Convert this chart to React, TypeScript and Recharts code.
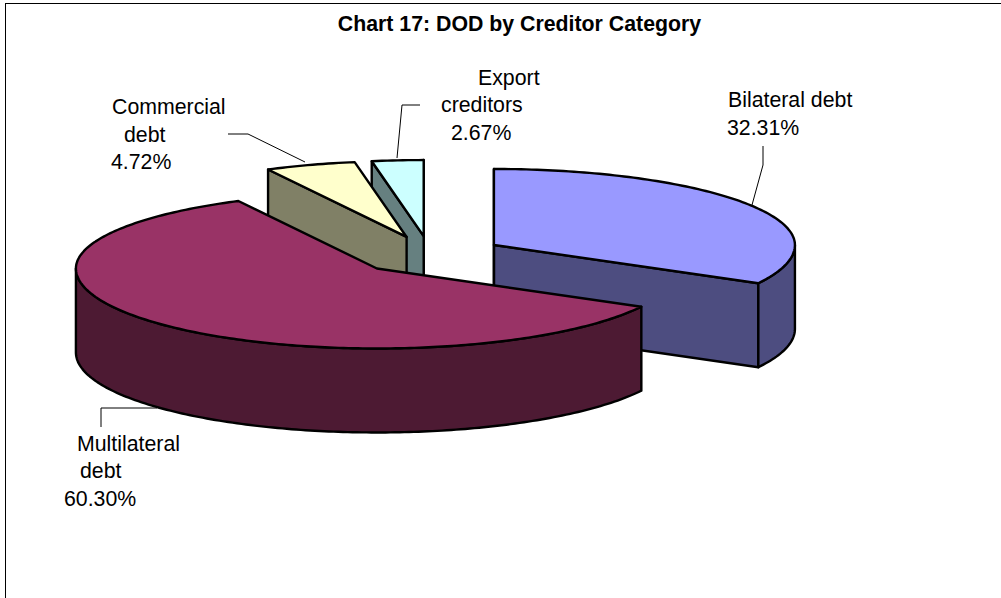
import React from "react";
import { PieChart, Pie } from "recharts";

// Creditor shares of disbursed outstanding debt, in percent.
const categories = ["Bilateral debt", "Export creditors", "Commercial debt", "Multilateral debt"];
const shares = [32.31, 2.67, 4.72, 60.3];
const topColors = ["#9999FF", "#CCFFFF", "#FFFFCC", "#993366"];
const wallColors = ["#4D4D80", "#668080", "#808066", "#4D1A33"];

const pieRows = categories.map((name, i) => ({
  name,
  value: shares[i],
  top: topColors[i],
  wall: wallColors[i],
}));

const WIDTH = 1001;
const HEIGHT = 598;
const CENTER_X = 430;
const CENTER_Y = 255;
const RADIUS = 301;
const FAR_TILT = 76 / 301; // vertical squash of the half of the disc away from the viewer
const NEAR_TILT = 80 / 301; // the near half looks slightly deeper under perspective
const DEPTH = 84; // thickness of the disc in pixels
const EXPLODE = 0.25; // slice offset as a share of the radius
const FONT = "'Liberation Sans', Arial, sans-serif";
const FONT_SIZE = 21.3;
const EDGE = 2.4;

// Rotates the pie so that the first slice ends on the 12 o'clock line going clockwise.
const START_ANGLE = 90 - (360 * shares[0]) / 100;

const rad = (deg: number) => (deg * Math.PI) / 180;

type Pt = { x: number; y: number };

// Perspective foreshortening of an angle around the disc.
const projectAngle = (a: number) => {
  const s = Math.sin(rad(a));
  return a + (s < 0 ? 2.8 : -1) * Math.sin(rad(2 * a));
};

function Slice3D(props: any) {
  const { cx, cy, outerRadius, startAngle, endAngle, midAngle, payload } = props;
  const row = payload ?? props;
  const rx = outerRadius;
  const ox = cx + EXPLODE * rx * Math.cos(rad(midAngle));
  const oy = cy - EXPLODE * outerRadius * FAR_TILT * Math.sin(rad(midAngle));
  const at = (a: number, drop = 0): Pt => {
    const p = rad(projectAngle(a));
    const sin = Math.sin(p);
    const ry = outerRadius * (sin < 0 ? NEAR_TILT : FAR_TILT);
    return { x: ox + rx * Math.cos(p), y: oy - ry * sin + drop };
  };
  const arc = (a: number, b: number, drop = 0) => {
    const steps = Math.max(2, Math.ceil(Math.abs(b - a)));
    let d = "";
    for (let i = 1; i <= steps; i += 1) {
      const p = at(a + ((b - a) * i) / steps, drop);
      d += `L ${p.x.toFixed(2)} ${p.y.toFixed(2)} `;
    }
    return d;
  };

  const s = at(startAngle);
  const e = at(endAngle);
  const interior = at((startAngle + endAngle) / 2);
  const edgeStyle = { stroke: "#000", strokeWidth: EDGE, strokeLinejoin: "round" as const };

  // A radial wall shows only when the slice's top face lies above its edge.
  const radialWall = (p: Pt, key: string) => {
    const dx = p.x - ox;
    const lineY = Math.abs(dx) < 0.5 ? interior.y + 1 : oy + ((p.y - oy) * (interior.x - ox)) / dx;
    if (interior.y > lineY) return null;
    const d = `M ${ox} ${oy} L ${p.x} ${p.y} L ${p.x} ${p.y + DEPTH} L ${ox} ${oy + DEPTH} Z`;
    return <path key={key} d={d} fill={row.wall} {...edgeStyle} />;
  };

  // Outer rim: only the part of the arc on the near half of the ellipse.
  const rims: React.ReactNode[] = [];
  for (const [lo, hi] of [
    [-180, 0],
    [180, 360],
  ]) {
    const a = Math.max(startAngle, lo);
    const b = Math.min(endAngle, hi);
    if (b > a) {
      const pa = at(a);
      const d = `M ${pa.x} ${pa.y} ${arc(a, b)}${arc(b, b, DEPTH)}${arc(b, a, DEPTH)}Z`;
      rims.push(<path key={`rim${lo}`} d={d} fill={row.wall} {...edgeStyle} />);
    }
  }

  const topFace = `M ${ox} ${oy} L ${s.x} ${s.y} ${arc(startAngle, endAngle)}Z`;
  return (
    <g>
      {radialWall(s, "wallStart")}
      {radialWall(e, "wallEnd")}
      {rims}
      <path d={topFace} fill={row.top} {...edgeStyle} />
    </g>
  );
}

// Callout text and elbowed leader line for each slice.
const calloutLines: Record<string, { text: string; x: number; y: number }[]> = {
  "Bilateral debt": [
    { text: "Bilateral debt", x: 728, y: 107 },
    { text: "", x: 727, y: 135 },
  ],
  "Export creditors": [
    { text: "Export", x: 478, y: 85 },
    { text: "creditors", x: 441, y: 112 },
    { text: "", x: 451, y: 140 },
  ],
  "Commercial debt": [
    { text: "Commercial", x: 112, y: 114 },
    { text: "debt", x: 124, y: 142 },
    { text: "", x: 111, y: 169 },
  ],
  "Multilateral debt": [
    { text: "Multilateral", x: 77, y: 451 },
    { text: "debt", x: 80, y: 478 },
    { text: "", x: 64, y: 506 },
  ],
};

const leaderPoints: Record<string, string> = {
  "Bilateral debt": "763,146 763,165 752,205",
  "Export creditors": "420,105 402,105 397,158",
  "Commercial debt": "228,134 248,134 305,162",
  "Multilateral debt": "101,427 101,408 157,408",
};

function Callout(props: any) {
  const { name, value } = props;
  const lines = calloutLines[name];
  return (
    <g>
      <polyline points={leaderPoints[name]} fill="none" stroke="#000" strokeWidth={1} />
      {lines.map((l, i) => (
        <text key={i} x={l.x} y={l.y} fontFamily={FONT} fontSize={FONT_SIZE} fill="#000">
          {l.text || `${value.toFixed(2)}%`}
        </text>
      ))}
    </g>
  );
}

export default function App() {
  return (
    <div style={{ position: "absolute", left: 0, top: 0, width: WIDTH, height: HEIGHT, overflow: "hidden", background: "#fff" }}>
      <div style={{ position: "absolute", left: 5, top: 3, width: WIDTH, height: HEIGHT, borderLeft: "1px solid #000", borderTop: "1px solid #000" }} />
      <div style={{ position: "absolute", left: 0, top: 0 }}>
        <PieChart width={WIDTH} height={HEIGHT} margin={{ top: 0, right: 0, bottom: 0, left: 0 }}>
          <text x={519.5} y={31} textAnchor="middle" fontFamily={FONT} fontSize={FONT_SIZE} fontWeight="bold" fill="#000">
            Chart 17: DOD by Creditor Category
          </text>
          <Pie
            data={pieRows}
            dataKey="value"
            nameKey="name"
            cx={CENTER_X}
            cy={CENTER_Y}
            innerRadius={0}
            outerRadius={RADIUS}
            startAngle={START_ANGLE}
            endAngle={START_ANGLE + 360}
            stroke="none"
            shape={Slice3D}
            label={Callout}
            labelLine={false}
            isAnimationActive={false}
          />
        </PieChart>
      </div>
    </div>
  );
}
